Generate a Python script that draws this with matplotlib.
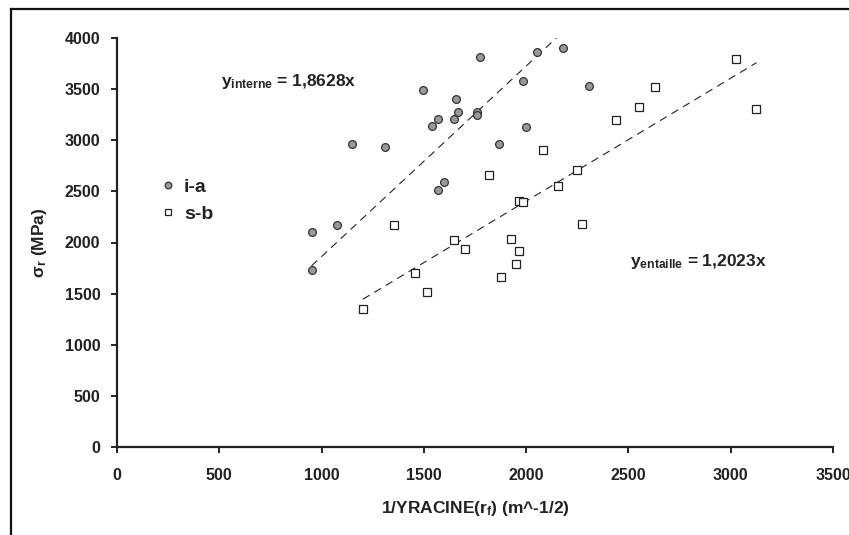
import numpy as np
import matplotlib.pyplot as plt
from matplotlib.lines import Line2D

# Data
x_interne = [951, 954, 1073, 1151, 1311, 1495, 1541, 1569, 1569, 1598, 1647,
             1655, 1665, 1760, 1761, 1774, 1866, 1986, 1998, 2055, 2182, 2306]
y_interne = [1727, 2105, 2173, 2965, 2933, 3487, 3138, 3203, 2515, 2590, 3203,
             3402, 3275, 3278, 3248, 3812, 2959, 3578, 3128, 3864, 3903, 3532]

x_entaille = [1202, 1354, 1456, 1513, 1647, 1701, 1817, 1875, 1926, 1950, 1963,
              1965, 1985, 2084, 2156, 2250, 2275, 2441, 2552, 2631, 3027, 3126]
y_entaille = [1346, 2167, 1698, 1515, 2027, 1939, 2662, 1662, 2036, 1792, 2408,
              1916, 2395, 2903, 2555, 2711, 2183, 3200, 3330, 3519, 3793, 3307]

slope_interne = 1.8628
slope_entaille = 1.2023

labels = ['i-a', 's-b']

plt.rcParams['font.family'] = ['Liberation Sans', 'DejaVu Sans']
plt.rcParams['font.weight'] = 'bold'
plt.rcParams['mathtext.fontset'] = 'custom'
plt.rcParams['mathtext.rm'] = 'Liberation Sans:bold'
plt.rcParams['mathtext.bf'] = 'Liberation Sans:bold'
plt.rcParams['mathtext.it'] = 'Liberation Sans:bold'

W, H = 849, 535
fig = plt.figure(figsize=(W / 100, H / 100), dpi=100)
ax = fig.add_axes([117 / W, 1 - 447 / H, (833 - 117) / W, (447 - 38) / H])

txtc = '#222222'

ax.plot(x_interne, y_interne, 'o', ms=5.6, mfc='#999999', mec='#333333',
        mew=0.9, label=labels[0], zorder=3)
ax.plot(x_entaille, y_entaille, 's', ms=5.3, mfc='white', mec='#222222',
        mew=0.9, label=labels[1], zorder=3)

# trend lines through the origin
xi = np.array([min(x_interne), max(x_interne)])
ax.plot(xi, slope_interne * xi, ls=(0, (7, 5)), color='#222222', lw=0.8)
xe = np.array([min(x_entaille), max(x_entaille)])
ax.plot(xe, slope_entaille * xe, ls=(0, (7, 5)), color='#222222', lw=0.8)

ax.set_xlim(0, 3500)
ax.set_ylim(0, 4000)
ax.set_xticks(np.arange(0, 3501, 500))
ax.set_yticks(np.arange(0, 4001, 500))

for s in ['top', 'right']:
    ax.spines[s].set_visible(False)
for s in ['left', 'bottom']:
    ax.spines[s].set_linewidth(1.6)
    ax.spines[s].set_color(txtc)

ax.tick_params(axis='both', direction='out', length=4, width=1.4, color=txtc,
               labelsize=11.5, labelcolor=txtc)
ax.tick_params(axis='x', pad=11)
ax.tick_params(axis='y', pad=8)
for lab in ax.get_xticklabels() + ax.get_yticklabels():
    lab.set_fontweight('bold')

ax.set_xlabel(r'1/YRACINE(r$_{\mathregular{f}}$) (m^-1/2)', fontsize=12.5,
              fontweight='bold', color=txtc, labelpad=12)
ax.set_ylabel(r'σ$_{\mathregular{r}}$ (MPa)', fontsize=12.5,
              fontweight='bold', color=txtc, labelpad=11)

ax.text((221 - 117) / 0.2044, (447 - 81) / 0.1023,
        r'y$_{\mathregular{interne}}$ = 1,8628x', fontsize=12.5,
        fontweight='bold', color=txtc, va='center', ha='left')
ax.text((630 - 117) / 0.2044, (447 - 261) / 0.1023,
        r'y$_{\mathregular{entaille}}$ = 1,2023x', fontsize=12.5,
        fontweight='bold', color=txtc, va='center', ha='left')

leg = ax.legend(loc='upper left', bbox_to_anchor=(0.05, 0.68),
                frameon=False, prop={'weight': 'bold', 'size': 14},
                handlelength=0.6, handletextpad=0.5, labelspacing=0.45,
                borderpad=0, markerscale=0.85)
for t in leg.get_texts():
    t.set_color(txtc)

# outer frame (partially cropped in the reference)
fy = 1 - 9 / H
fx = 11 / W
fig.add_artist(Line2D([fx, fx], [0, fy], transform=fig.transFigure,
                      color='#111111', lw=1.6))
fig.add_artist(Line2D([fx, 1], [fy, fy], transform=fig.transFigure,
                      color='#111111', lw=1.6))

fig.savefig('out.png', dpi=100)
